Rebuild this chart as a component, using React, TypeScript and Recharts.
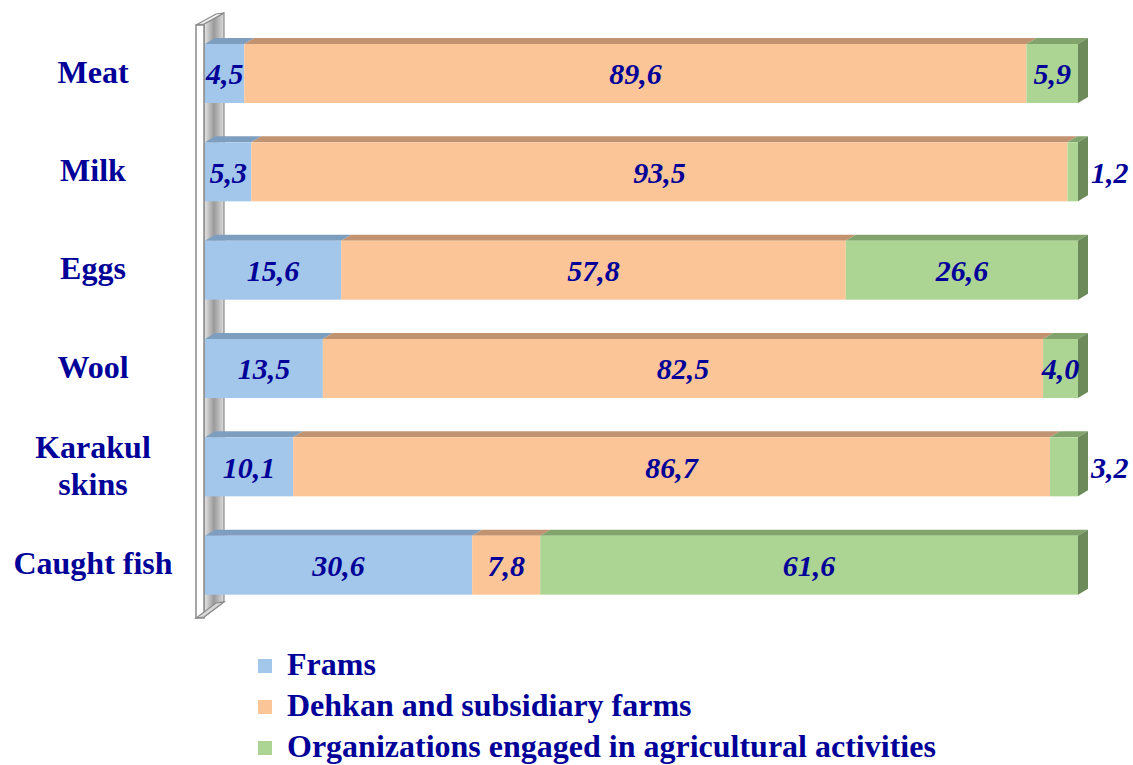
import React from 'react';
import { BarChart, Bar, XAxis, YAxis, LabelList } from 'recharts';

const categories = ['Meat', 'Milk', 'Eggs', 'Wool', 'Karakul\nskins', 'Caught fish'];
const frams = [4.5, 5.3, 15.6, 13.5, 10.1, 30.6];
const dehkan = [89.6, 93.5, 57.8, 82.5, 86.7, 7.8];
const organizations = [5.9, 1.2, 26.6, 4.0, 3.2, 61.6];
const seriesNames = ['Frams', 'Dehkan and subsidiary farms', 'Organizations engaged in agricultural activities'];

const data = categories.map((c, i) => ({ name: c, a: frams[i], b: dehkan[i], c: organizations[i] }));

const TEXT = '#000099';
const FONT = '"Liberation Serif", "Times New Roman", serif';
const DX = 10;
const DY = 6;

const COLORS = [
  { front: '#A3C7EA', top: '#7E9EBF', side: '#6F8CA8' },
  { front: '#FBC597', top: '#C29370', side: '#A87F60' },
  { front: '#ACD493', top: '#80A46C', side: '#6D8A5B' },
];

const W = 1133;
const H = 765;
const M = { top: 24, right: 55, bottom: 151, left: 0 };
const YW = 205;

const fmt = (v: number) => v.toFixed(1).replace('.', ',');

const make3D = (idx: number, withSide: boolean) => (props: any) => {
  const { x, y, width, height } = props;
  if (width == null || width <= 0) return <g />;
  const c = COLORS[idx];
  return (
    <g>
      <polygon
        points={`${x},${y} ${x + DX},${y - DY} ${x + width + DX},${y - DY} ${x + width},${y}`}
        fill={c.top}
      />
      {withSide && (
        <polygon
          points={`${x + width},${y} ${x + width + DX},${y - DY} ${x + width + DX},${y + height - DY} ${x + width},${y + height}`}
          fill={c.side}
        />
      )}
      <rect x={x} y={y} width={width} height={height} fill={c.front} />
    </g>
  );
};

const makeLabel = (outsideSmall: boolean) => (props: any) => {
  const { x, y, width, height, value } = props;
  const v = Number(value);
  const outside = outsideSmall && v < 3.5;
  const tx = outside ? x + width + DX + 3 : x + width / 2;
  return (
    <text
      x={tx}
      y={y + height / 2}
      dy="0.36em"
      textAnchor={outside ? 'start' : 'middle'}
      fill={TEXT}
      fontFamily={FONT}
      fontWeight="bold"
      fontStyle="italic"
      fontSize={30}
    >
      {fmt(v)}
    </text>
  );
};

const CategoryTick = (props: any) => {
  const { y, payload } = props;
  const lines = String(payload.value).split('\n');
  const lh = 37;
  const start = -((lines.length - 1) * lh) / 2;
  return (
    <text x={93} y={y} textAnchor="middle" fill={TEXT} fontFamily={FONT} fontWeight="bold" fontSize={32}>
      {lines.map((l, i) => (
        <tspan key={i} x={93} y={y + start + i * lh - 2} dy="0.36em">
          {l}
        </tspan>
      ))}
    </text>
  );
};

const LegendBlock = () => (
  <div style={{ position: 'absolute', left: 258, top: 644, fontFamily: FONT }}>
    {seriesNames.map((n, i) => (
      <div key={n} style={{ display: 'flex', alignItems: 'center', height: 41 }}>
        <span style={{ display: 'inline-block', width: 14, height: 14, background: COLORS[i].front, marginRight: 15, marginTop: 2 }} />
        <span
          style={{
            color: TEXT,
            fontFamily: FONT,
            fontWeight: 'bold',
            fontSize: 32,
            whiteSpace: 'nowrap',
            lineHeight: '41px',
          }}
        >
          {n}
        </span>
      </div>
    ))}
  </div>
);

const Wall = () => (
  <svg width={W} height={H} style={{ position: 'absolute', left: 0, top: 0 }}>
    <defs>
      <linearGradient id="wallg" x1="0" y1="0" x2="1" y2="0">
        <stop offset="0%" stopColor="#e6e6e6" />
        <stop offset="50%" stopColor="#9a9a9a" />
        <stop offset="100%" stopColor="#dcdcdc" />
      </linearGradient>
    </defs>
    <polygon points="204,24 224,13 224,602 204,617" fill="url(#wallg)" stroke="#8a8a8a" strokeWidth={1.2} />
    <polygon points="196,25 204,24 224,13 216,14" fill="#f2f2f2" stroke="#8a8a8a" strokeWidth={1.2} />
    <rect x={196} y={25} width={8} height={593} fill="#ffffff" stroke="#8a8a8a" strokeWidth={1.5} />
    <polygon points="196,618 204,617 224,602 216,603" fill="#d8d8d8" stroke="#8a8a8a" strokeWidth={1.2} />
  </svg>
);

export default function App() {
  return (
    <div style={{ position: 'absolute', left: 0, top: 0, width: W, height: H, background: '#fff', overflow: 'hidden' }}>
      <Wall />
      <div style={{ position: 'absolute', left: 0, top: 0 }}>
        <BarChart width={W} height={H} data={data} layout="vertical" margin={M} barSize={59}>
          <XAxis type="number" domain={[0, 100]} hide />
          <YAxis
            type="category"
            dataKey="name"
            width={YW}
            axisLine={false}
            tickLine={false}
            tick={<CategoryTick />}
            interval={0}
          />
          <Bar dataKey="a" stackId="s" isAnimationActive={false} shape={make3D(0, false)}>
            <LabelList dataKey="a" content={makeLabel(false)} />
          </Bar>
          <Bar dataKey="b" stackId="s" isAnimationActive={false} shape={make3D(1, false)}>
            <LabelList dataKey="b" content={makeLabel(false)} />
          </Bar>
          <Bar dataKey="c" stackId="s" isAnimationActive={false} shape={make3D(2, true)}>
            <LabelList dataKey="c" content={makeLabel(true)} />
          </Bar>
        </BarChart>
      </div>
      <LegendBlock />
    </div>
  );
}
